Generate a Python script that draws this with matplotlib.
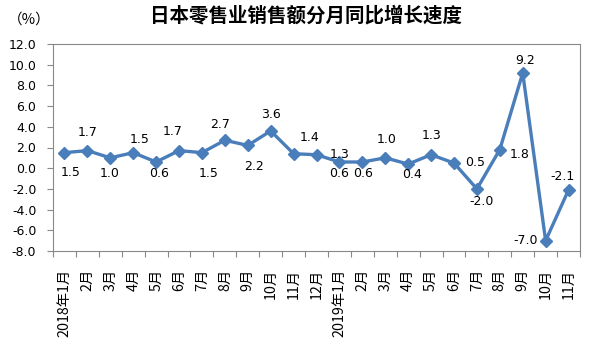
import matplotlib
matplotlib.use("Agg")
import matplotlib.pyplot as plt
from matplotlib.ticker import FixedLocator, NullFormatter

plt.rcParams['font.family'] = ['Noto Sans CJK SC', 'DejaVu Sans']

months = ["2018年1月", "2月", "3月", "4月", "5月", "6月", "7月", "8月", "9月", "10月", "11月", "12月",
          "2019年1月", "2月", "3月", "4月", "5月", "6月", "7月", "8月", "9月", "10月", "11月"]
values = [1.5, 1.7, 1.0, 1.5, 0.6, 1.7, 1.5, 2.7, 2.2, 3.6, 1.4, 1.3,
          0.6, 0.6, 1.0, 0.4, 1.3, 0.5, -2.0, 1.8, 9.2, -7.0, -2.1]
yticks = [-8, -6, -4, -2, 0, 2, 4, 6, 8, 10, 12]
# label offsets in pixels (dx, dy), style only
offsets = [(6, -20), (0, 18), (-1, -16), (6, 13), (3, -12), (-6, 19), (7, -21), (-5, 16),
           (6, -21), (0, 16), (16, 16), (23, 0), (0, -12), (1, -12), (1, 18), (4, -10),
           (0, 19), (21, 1), (5, -13), (20, -5), (2, 12), (-20, 0), (-6, 13)]

W, H = 591, 353
fig = plt.figure(figsize=(W / 100, H / 100), dpi=100)
ax = fig.add_axes([53 / W, 1 - 251 / H, (580 - 53) / W, (251 - 44) / H])

color = '#4A7EBB'
x = list(range(len(values)))
ax.plot(x, values, color=color, lw=2.4, marker='D', markersize=6, zorder=3)

for xi, v, (dx, dy) in zip(x, values, offsets):
    ax.annotate(f"{v:.1f}", (xi, v), xytext=(dx, dy), textcoords='offset pixels',
                ha='center', va='center', fontsize=9, family='DejaVu Sans', color='black')

ax.set_xlim(-0.5, len(values) - 0.5)
ax.set_ylim(yticks[0], yticks[-1])
ax.set_yticks(yticks)
ax.set_yticklabels([f"{t:.1f}" for t in yticks], fontsize=9, family='DejaVu Sans')

ax.set_xticks(x)
ax.set_xticklabels(months, rotation=90, fontsize=10.3, va='top', ha='center')
ax.xaxis.set_minor_locator(FixedLocator([i - 0.5 for i in range(len(values) + 1)]))
ax.xaxis.set_minor_formatter(NullFormatter())
ax.tick_params(axis='x', which='major', length=0, pad=13)
ax.tick_params(axis='x', which='minor', length=4, color='#898989', width=0.8)
ax.tick_params(axis='y', length=4, color='#898989', width=0.8, pad=8)

for s in ax.spines.values():
    s.set_color('#898989')
    s.set_linewidth(0.8)

fig.text(306 / W, 1 - 16 / H, "日本零售业销售额分月同比增长速度", ha='center', va='center',
         fontsize=14, fontweight='bold')
fig.text(29 / W, 1 - 20 / H, "（%）", ha='center', va='center', fontsize=10.5)

fig.savefig("out.png", dpi=100)
